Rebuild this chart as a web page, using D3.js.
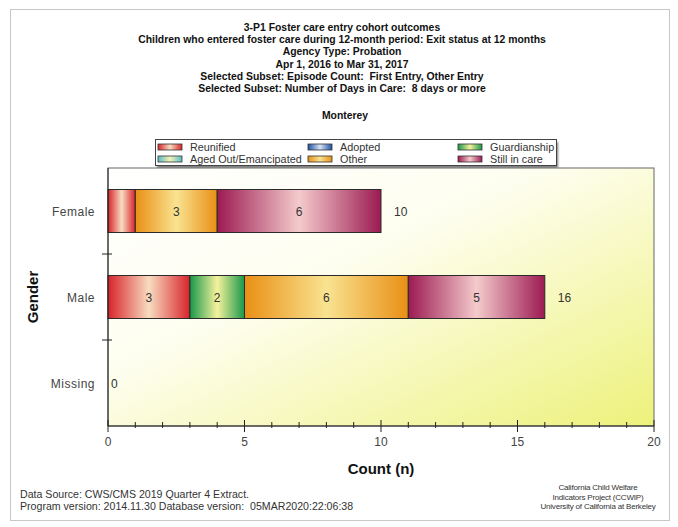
<!DOCTYPE html>
<html>
<head>
<meta charset="utf-8">
<script src="https://cdn.jsdelivr.net/npm/d3@7"></script>
<style>
  html, body { margin: 0; padding: 0; background: #ffffff; }
  svg { display: block; font-family: "Liberation Sans", Arial, sans-serif; }
  svg text { white-space: pre; }
</style>
</head>
<body>
<svg id="chart" width="678" height="527"></svg>
<script>
// ---- data ----
const genders = ["Female", "Male", "Missing"];
const outcomes = ["Reunified", "Adopted", "Guardianship", "Aged Out/Emancipated", "Other", "Still in care"];
const reunified    = [1, 3, 0];
const adopted      = [0, 0, 0];
const guardianship = [0, 2, 0];
const agedOut      = [0, 0, 0];
const other        = [3, 6, 0];
const stillInCare  = [6, 5, 0];
const xTicks = [0, 5, 10, 15, 20];

const titleLines = [
  "3-P1 Foster care entry cohort outcomes",
  "Children who entered foster care during 12-month period: Exit status at 12 months",
  "Agency Type: Probation",
  "Apr 1, 2016 to Mar 31, 2017",
  "Selected Subset: Episode Count:  First Entry, Other Entry",
  "Selected Subset: Number of Days in Care:  8 days or more"
];
const subtitle = "Monterey";
const footerLeft = [
  "Data Source: CWS/CMS 2019 Quarter 4 Extract.",
  "Program version: 2014.11.30 Database version:  05MAR2020:22:06:38"
];
const footerRight = [
  "California Child Welfare",
  "Indicators Project (CCWIP)",
  "University of California at Berkeley"
];

// edge colour and centre highlight for each outcome's shaded fill
const palette = {
  "Reunified":            ["#d8232a", "#f8dcc0"],
  "Adopted":              ["#1f4fa3", "#d8e4f4"],
  "Guardianship":         ["#17984a", "#f6f29c"],
  "Aged Out/Emancipated": ["#56bcc8", "#f6f2b8"],
  "Other":                ["#e98f14", "#f9e391"],
  "Still in care":        ["#9c1a52", "#f4cbcc"]
};

const seriesValues = [reunified, adopted, guardianship, agedOut, other, stillInCare];
const rows = genders.map((g, i) => {
  const row = { gender: g };
  outcomes.forEach((o, k) => { row[o] = seriesValues[k][i]; });
  row.total = d3.sum(outcomes, o => row[o]);
  return row;
});

// ---- layout ----
const svg = d3.select("#chart");
const margin = { left: 108, right: 24, top: 168, bottom: 101 };
const W = 678, H = 527;
const plotW = W - margin.left - margin.right;
const plotH = H - margin.top - margin.bottom;

const x = d3.scaleLinear().domain([0, 20]).range([margin.left, margin.left + plotW]);
const y = d3.scaleBand().domain(genders).range([margin.top, margin.top + plotH]).paddingInner(0.5).paddingOuter(0.25);
const yBand = d3.scaleBand().domain(genders).range([margin.top, margin.top + plotH]);

const defs = svg.append("defs");

// plot backdrop: white fading to yellow toward the lower right
const bg = defs.append("linearGradient").attr("id", "plotBg")
  .attr("x1", 0).attr("y1", 0).attr("x2", 1).attr("y2", 1);
bg.append("stop").attr("offset", 0).attr("stop-color", "#ffffff");
bg.append("stop").attr("offset", 0.4).attr("stop-color", "#fefef0");
bg.append("stop").attr("offset", 1).attr("stop-color", "#edf17a");

// cylinder-like shading: dark edges, light centre
outcomes.forEach((o, k) => {
  const g = defs.append("linearGradient").attr("id", "fill" + k)
    .attr("x1", 0).attr("y1", 0).attr("x2", 1).attr("y2", 0);
  g.append("stop").attr("offset", 0).attr("stop-color", palette[o][0]);
  g.append("stop").attr("offset", 0.5).attr("stop-color", palette[o][1]);
  g.append("stop").attr("offset", 1).attr("stop-color", palette[o][0]);
});

const shadow = defs.append("filter").attr("id", "soft").attr("x", "-5%").attr("y", "-20%").attr("width", "110%").attr("height", "160%");
shadow.append("feGaussianBlur").attr("stdDeviation", 1);

// page frame
svg.append("rect").attr("x", 10.5).attr("y", 9.5).attr("width", 659).attr("height", 511)
  .attr("fill", "none").attr("stroke", "#c8c8c8").attr("stroke-width", 1);

// titles
const titles = svg.append("g").attr("text-anchor", "middle").attr("fill", "#111")
  .attr("font-size", 10.4).attr("font-weight", "bold");
titles.selectAll("text").data(titleLines).join("text")
  .attr("x", 342).attr("y", (d, i) => 31 + i * 12.2)
  .text(d => d);
svg.append("text").attr("x", 345).attr("y", 119).attr("text-anchor", "middle")
  .attr("font-size", 10.4).attr("font-weight", "bold").attr("fill", "#111").text(subtitle);

// legend
const legend = svg.append("g");
legend.append("rect").attr("x", 157).attr("y", 142).attr("width", 401).attr("height", 26)
  .attr("fill", "#777").attr("filter", "url(#soft)");
legend.append("rect").attr("x", 155.5).attr("y", 139.5).attr("width", 401).attr("height", 26)
  .attr("fill", "#ffffff").attr("stroke", "#444");
const legX = [158, 308, 458];
outcomes.forEach((o, k) => {
  const col = k % 3, row = Math.floor(k / 3);
  const lx = legX[col], ly = 144 + row * 12;
  legend.append("rect").attr("x", lx).attr("y", ly).attr("width", 24).attr("height", 6)
    .attr("fill", "url(#fill" + k + ")").attr("stroke", "#333").attr("stroke-width", 0.8);
  legend.append("text").attr("x", lx + 32).attr("y", ly + 7).attr("font-size", 10.8)
    .attr("fill", "#333").text(o);
});

// plot area
svg.append("rect").attr("x", margin.left).attr("y", margin.top)
  .attr("width", plotW).attr("height", plotH)
  .attr("fill", "url(#plotBg)").attr("stroke", "#666").attr("stroke-width", 1);

// stacked bars
const stack = d3.stack().keys(outcomes)(rows);
const barG = svg.append("g");
stack.forEach((layer, k) => {
  barG.selectAll(null).data(layer.filter(d => d[1] > d[0])).join("rect")
    .attr("x", d => x(d[0]))
    .attr("y", d => y(d.data.gender))
    .attr("width", d => x(d[1]) - x(d[0]))
    .attr("height", y.bandwidth())
    .attr("fill", "url(#fill" + k + ")")
    .attr("stroke", "#2a2a2a").attr("stroke-width", 1);
});
// segment values (only where there is room)
stack.forEach((layer) => {
  barG.selectAll(null).data(layer.filter(d => d[1] - d[0] >= 2)).join("text")
    .attr("x", d => (x(d[0]) + x(d[1])) / 2)
    .attr("y", d => y(d.data.gender) + y.bandwidth() / 2 + 4.5)
    .attr("text-anchor", "middle").attr("font-size", 12).attr("fill", "#333")
    .text(d => d[1] - d[0]);
});
// row totals
barG.selectAll(".total").data(rows).join("text").attr("class", "total")
  .attr("x", d => x(d.total) + (d.total > 0 ? 13 : 3))
  .attr("y", d => y(d.gender) + y.bandwidth() / 2 + 4.5)
  .attr("font-size", 12).attr("fill", "#333")
  .text(d => d.total);

// x axis
const axisY = margin.top + plotH;
const xAxis = svg.append("g").attr("transform", `translate(0,${axisY})`);
xAxis.append("line").attr("x1", x(0)).attr("x2", x(20)).attr("stroke", "#222");
xAxis.selectAll(".minor").data(d3.range(0, 21)).join("line")
  .attr("x1", d => x(d)).attr("x2", d => x(d))
  .attr("y1", d => xTicks.includes(d) ? -6 : -4)
  .attr("y2", d => xTicks.includes(d) ? 6 : 2)
  .attr("stroke", "#222");
xAxis.selectAll(".lbl").data(xTicks).join("text")
  .attr("x", d => x(d)).attr("y", 20).attr("text-anchor", "middle")
  .attr("font-size", 12).attr("fill", "#444").text(d => d);
svg.append("text").attr("x", x(10)).attr("y", 474).attr("text-anchor", "middle")
  .attr("font-size", 15).attr("font-weight", "bold").attr("fill", "#111").text("Count (n)");

// y axis
const yAxis = svg.append("g");
yAxis.append("line").attr("x1", margin.left).attr("x2", margin.left)
  .attr("y1", margin.top).attr("y2", axisY).attr("stroke", "#222");
yAxis.selectAll(".tk").data(genders.slice(1)).join("line")
  .attr("x1", margin.left - 6).attr("x2", margin.left + 4)
  .attr("y1", d => yBand(d)).attr("y2", d => yBand(d)).attr("stroke", "#222");
yAxis.selectAll(".lbl").data(genders).join("text")
  .attr("x", 95).attr("y", d => yBand(d) + yBand.bandwidth() / 2 + 4.5)
  .attr("text-anchor", "end").attr("font-size", 12).attr("fill", "#444")
  .attr("letter-spacing", 0.5).text(d => d);
svg.append("text")
  .attr("transform", `translate(38,${margin.top + plotH / 2}) rotate(-90)`)
  .attr("text-anchor", "middle").attr("font-size", 15).attr("font-weight", "bold")
  .attr("fill", "#111").text("Gender");

// footer
svg.append("g").selectAll("text").data(footerLeft).join("text")
  .attr("x", 20).attr("y", (d, i) => 498 + i * 12)
  .attr("font-size", 10.6).attr("fill", "#333").text(d => d);
svg.append("g").selectAll("text").data(footerRight).join("text")
  .attr("x", 598).attr("y", (d, i) => 490 + i * 9.5)
  .attr("text-anchor", "middle").attr("font-size", 8).attr("letter-spacing", -0.2)
  .attr("fill", "#333").text(d => d);
</script>
</body>
</html>
